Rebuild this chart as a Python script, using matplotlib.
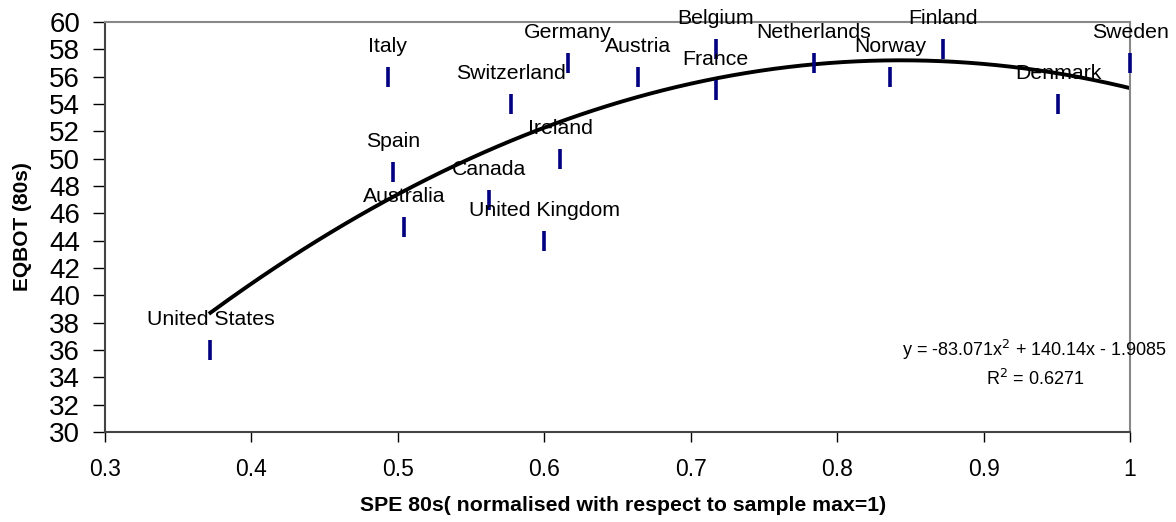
import numpy as np
import matplotlib
matplotlib.use("Agg")
import matplotlib.pyplot as plt

plt.rcParams['font.family'] = ['Liberation Sans', 'DejaVu Sans']

# data
countries = ["United States", "Italy", "Spain", "Australia", "Canada", "Switzerland",
             "United Kingdom", "Ireland", "Germany", "Austria", "Belgium", "France",
             "Netherlands", "Norway", "Finland", "Denmark", "Sweden"]
spe = [0.372, 0.493, 0.497, 0.504, 0.562, 0.577, 0.600, 0.611, 0.616, 0.664,
       0.717, 0.717, 0.784, 0.836, 0.872, 0.951, 1.0]
eqbot = [36, 56, 49, 45, 47, 54, 44, 50, 57, 56, 58, 55, 57, 56, 58, 54, 57]

# quadratic trend (Excel)
coef = [-83.071, 140.14, -1.9085]
r2 = 0.6271

fig = plt.figure(figsize=(11.76, 5.22), dpi=100)
ax = fig.add_axes([0.0893, 0.1724, 0.8716, 0.7855])

xs = np.linspace(min(spe), max(spe), 200)
ax.plot(xs, np.polyval(coef, xs), color="black", lw=2.8, zorder=2)

ax.plot(spe, eqbot, ls="none", marker="|", ms=15, mew=2.6, color="#000080",
        clip_on=False, zorder=3)

for name, x, y in zip(countries, spe, eqbot):
    ax.annotate(name, (x, y), xytext=(0, 18), textcoords="offset points",
                ha="center", va="baseline", fontsize=15.3, annotation_clip=False)

ax.text(0.935, 35.0, "y = -83.071x$^{2}$ + 140.14x - 1.9085\nR$^{2}$ = %.4f" % r2,
        ha="center", va="center", fontsize=13, linespacing=1.45)

ax.set_xlim(0.3, 1.0)
ax.set_ylim(30, 60)
ax.set_xticks(np.arange(0.3, 1.01, 0.1))
ax.set_xticklabels(["0.3", "0.4", "0.5", "0.6", "0.7", "0.8", "0.9", "1"])
ax.set_yticks(np.arange(30, 61, 2))
ax.tick_params(axis="y", labelsize=20, length=9, width=1, direction="out", pad=9)
ax.tick_params(axis="x", labelsize=16.5, length=7, width=1, direction="out", pad=12)

for s in ["left", "bottom"]:
    ax.spines[s].set_color("#444444")
    ax.spines[s].set_linewidth(1.5)
for s in ["top", "right"]:
    ax.spines[s].set_color("#888888")
    ax.spines[s].set_linewidth(1.5)

ax.set_xlabel("SPE 80s( normalised with respect to sample max=1)",
              fontsize=15.3, fontweight="bold")
ax.xaxis.set_label_coords(0.505, -0.155)
ax.set_ylabel("EQBOT (80s)", fontsize=15, fontweight="bold")
ax.yaxis.set_label_coords(-0.071, 0.5)

fig.savefig("out.png", dpi=100)
